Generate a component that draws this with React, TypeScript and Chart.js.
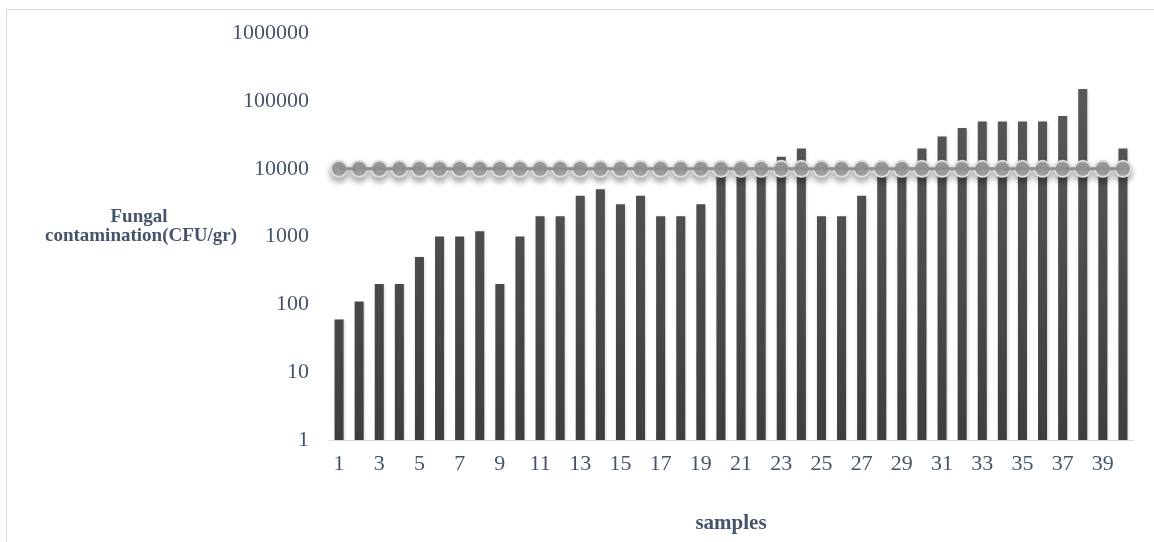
import React, { useEffect, useRef } from "react";
import { Chart, registerables } from "chart.js";

Chart.register(...registerables);

const sampleLabels: string[] = [
  "1", "2", "3", "4", "5", "6", "7", "8", "9", "10",
  "11", "12", "13", "14", "15", "16", "17", "18", "19", "20",
  "21", "22", "23", "24", "25", "26", "27", "28", "29", "30",
  "31", "32", "33", "34", "35", "36", "37", "38", "39", "40",
];

const fungalCounts: number[] = [
  60, 110, 200, 200, 500, 1000, 1000, 1200, 200, 1000,
  2000, 2000, 4000, 5000, 3000, 4000, 2000, 2000, 3000, 10000,
  10000, 10000, 15000, 20000, 2000, 2000, 4000, 10000, 10000, 20000,
  30000, 40000, 50000, 50000, 50000, 50000, 60000, 150000, 10000, 20000,
];

const standardLimit: number[] = [
  10000, 10000, 10000, 10000, 10000, 10000, 10000, 10000, 10000, 10000,
  10000, 10000, 10000, 10000, 10000, 10000, 10000, 10000, 10000, 10000,
  10000, 10000, 10000, 10000, 10000, 10000, 10000, 10000, 10000, 10000,
  10000, 10000, 10000, 10000, 10000, 10000, 10000, 10000, 10000, 10000,
];

const yTickValues: number[] = [1, 10, 100, 1000, 10000, 100000, 1000000];

const yTitleLines: string[] = ["Fungal", "contamination(CFU/gr)"];
const xTitle = "samples";

const FONT = "'Liberation Serif', 'Times New Roman', serif";
const TEXT = "#44546A";

export default function App() {
  const canvasRef = useRef<HTMLCanvasElement | null>(null);

  useEffect(() => {
    const canvas = canvasRef.current;
    if (!canvas) return;

    const shadowPlugin = {
      id: "shadows",
      beforeDatasetDraw(chart: any, args: any) {
        const ctx = chart.ctx;
        ctx.save();
        if (args.index === 1) {
          ctx.shadowColor = "rgba(0,0,0,0.35)";
          ctx.shadowBlur = 6;
          ctx.shadowOffsetY = 4;
        } else if (args.index === 0) {
          ctx.shadowColor = "rgba(0,0,0,0.18)";
          ctx.shadowBlur = 3;
          ctx.shadowOffsetX = 1;
          ctx.shadowOffsetY = 1;
        }
      },
      afterDatasetDraw(chart: any) {
        chart.ctx.restore();
      },
    };

    const yTitlePlugin = {
      id: "yTitle",
      afterDraw(chart: any) {
        const ctx = chart.ctx;
        ctx.save();
        ctx.fillStyle = TEXT;
        ctx.font = `bold 19px ${FONT}`;
        ctx.textAlign = "center";
        ctx.textBaseline = "middle";
        ctx.fillText(yTitleLines[0], 139, 217);
        ctx.fillText(yTitleLines[1], 141, 236);
        ctx.restore();
      },
    };

    const chart = new Chart(canvas, {
      type: "bar",
      data: {
        labels: sampleLabels,
        datasets: [
          {
            type: "bar",
            label: "Fungal contamination",
            data: fungalCounts,
            backgroundColor: (c: any) => {
              const area = c.chart.chartArea;
              if (!area) return "#505050";
              const g = c.chart.ctx.createLinearGradient(0, area.top, 0, area.bottom);
              g.addColorStop(0, "#5c5c5c");
              g.addColorStop(1, "#3e3e3e");
              return g;
            },
            borderWidth: 0,
            barPercentage: 0.45,
            categoryPercentage: 1,
            order: 3,
          },
          {
            type: "line",
            label: "Limit markers",
            data: standardLimit,
            showLine: false,
            pointRadius: 8,
            pointBackgroundColor: "#a2a2a2",
            pointBorderColor: "#dcdcdc",
            pointBorderWidth: 2,
            clip: false,
            order: 2,
          },
          {
            type: "line",
            label: "Limit",
            data: standardLimit,
            borderColor: "#8e8e8e",
            borderWidth: 3,
            pointRadius: 0,
            clip: false,
            order: 1,
          },
        ],
      },
      options: {
        animation: false,
        responsive: false,
        maintainAspectRatio: false,
        layout: { padding: { top: 33, right: 21, left: 0, bottom: 0 } },
        plugins: {
          legend: { display: false },
          tooltip: { enabled: false },
        },
        scales: {
          x: {
            grid: { display: false, drawTicks: false },
            border: { display: true, color: "#d9d9d9", width: 1 },
            ticks: {
              autoSkip: false,
              maxRotation: 0,
              minRotation: 0,
              padding: 11,
              color: TEXT,
              font: { family: FONT, size: 22 },
              callback: (_v: any, i: number) => (i % 2 === 0 ? sampleLabels[i] : ""),
            },
            title: {
              display: true,
              text: xTitle,
              color: TEXT,
              font: { family: FONT, size: 21, weight: "bold" },
              padding: { top: 18, bottom: 6 },
            },
            afterFit: (s: any) => {
              s.height = 102;
            },
          },
          y: {
            type: "logarithmic",
            min: 1,
            max: 1000000,
            grid: { display: false, drawTicks: false },
            border: { display: false },
            afterBuildTicks: (s: any) => {
              s.ticks = yTickValues.map((v) => ({ value: v }));
            },
            ticks: {
              padding: 20,
              color: TEXT,
              font: { family: FONT, size: 22 },
              callback: (v: any) => String(v),
            },
            afterFit: (s: any) => {
              s.width = 329;
            },
          },
        },
      },
      plugins: [shadowPlugin, yTitlePlugin],
    } as any);

    return () => chart.destroy();
  }, []);

  return (
    <div
      style={{
        position: "fixed",
        left: 0,
        top: 0,
        width: 1154,
        height: 542,
        overflow: "hidden",
        background: "#ffffff",
      }}
    >
      <div
        style={{
          position: "absolute",
          left: 6,
          top: 9,
          width: 1170,
          height: 560,
          border: "1px solid #d9d9d9",
          boxSizing: "border-box",
        }}
      />
      <canvas
        ref={canvasRef}
        width={1154}
        height={542}
        style={{ position: "absolute", left: 0, top: 0, width: 1154, height: 542 }}
      />
    </div>
  );
}
